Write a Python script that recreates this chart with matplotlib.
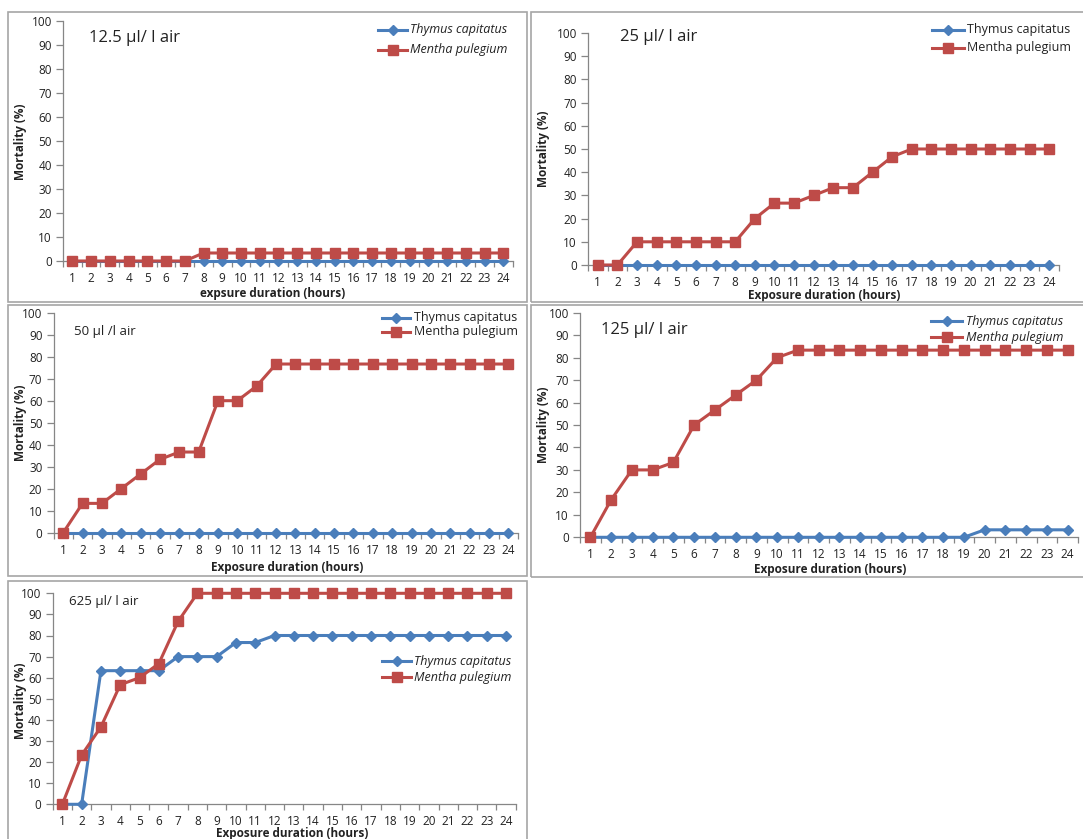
import matplotlib
matplotlib.use("Agg")
import matplotlib.pyplot as plt
from matplotlib.lines import Line2D
from matplotlib.patches import Rectangle

plt.rcParams['font.family'] = ['Open Sans', 'DejaVu Sans']

W, H = 1083, 839

hours = list(range(1, 25))
yticks = list(range(0, 101, 10))

# mortality (%) per concentration
thymus_12_5 = [0] * 24
mentha_12_5 = [0, 0, 0, 0, 0, 0, 0] + [3.33] * 17

thymus_25 = [0] * 24
mentha_25 = [0, 0, 10, 10, 10, 10, 10, 10, 20, 26.67, 26.67, 30, 33.33, 33.33,
             40, 46.67, 50, 50, 50, 50, 50, 50, 50, 50]

thymus_50 = [0] * 24
mentha_50 = [0, 13.33, 13.33, 20, 26.67, 33.33, 36.67, 36.67, 60, 60, 66.67,
             76.67] + [76.67] * 12

thymus_125 = [0] * 19 + [3.33] * 5
mentha_125 = [0, 16.67, 30, 30, 33.33, 50, 56.67, 63.33, 70, 80] + [83.33] * 14

thymus_625 = [0, 0, 63.33, 63.33, 63.33, 63.33, 70, 70, 70, 76.67, 76.67] + [80] * 13
mentha_625 = [0, 23.33, 36.67, 56.67, 60, 66.67, 86.67] + [100] * 17

labels = ["Thymus capitatus", "Mentha pulegium"]

BLUE = "#4A7EBB"
RED = "#BE4B48"
AXC = "#868686"
BOXC = "#A6A6A6"

fig = plt.figure(figsize=(W / 100, H / 100), dpi=100)


def fx(x):
    return x / W


def fy(y):
    return 1 - y / H


def box(x0, y0, x1, y1):
    fig.patches.append(Rectangle((fx(x0), fy(y1)), fx(x1) - fx(x0), fy(y0) - fy(y1),
                                 transform=fig.transFigure, fill=False,
                                 edgecolor=BOXC, linewidth=1.2))


def legend(x0, x1, tx, y_rows, italic, size):
    styles = [(BLUE, 'D', 5.5), (RED, 's', 7.5)]
    for (c, m, ms), yr, lab in zip(styles, y_rows, labels):
        fig.add_artist(Line2D([fx(x0), fx(x1)], [fy(yr), fy(yr)], color=c, lw=2.2,
                              transform=fig.transFigure))
        fig.add_artist(Line2D([fx((x0 + x1) / 2)], [fy(yr)], color=c, marker=m,
                              markersize=ms, markeredgecolor=c,
                              transform=fig.transFigure))
        fig.text(fx(tx), fy(yr), lab, fontsize=size, va='center', ha='left',
                 style='italic' if italic else 'normal', color='#222222')


def panel(xl, xr, y0, y100, thy, men, title, tpos, tsize, xlabel, xlab_pos, ylab_pos):
    ax = fig.add_axes([fx(xl), fy(y0), fx(xr) - fx(xl), (y0 - y100) / H])
    ax.plot(hours, thy, color=BLUE, lw=2.2, marker='D', markersize=5.5,
            markeredgecolor=BLUE, clip_on=False, zorder=3)
    ax.plot(hours, men, color=RED, lw=2.2, marker='s', markersize=7.5,
            markeredgecolor=RED, clip_on=False, zorder=4)
    ax.set_xlim(0.5, 24.5)
    ax.set_ylim(0, 100)
    for s in ('top', 'right'):
        ax.spines[s].set_visible(False)
    for s in ('left', 'bottom'):
        ax.spines[s].set_color(AXC)
        ax.spines[s].set_linewidth(0.9)
    ax.set_yticks(yticks)
    ax.tick_params(axis='y', direction='out', length=5, color=AXC, width=0.9,
                   labelsize=8.5, pad=3, labelcolor='#222222')
    # tick marks between categories, labels at the categories
    ax.set_xticks([h - 0.5 for h in hours] + [24.5])
    ax.set_xticklabels([])
    ax.set_xticks(hours, minor=True)
    ax.set_xticklabels([str(h) for h in hours], minor=True)
    ax.tick_params(axis='x', which='major', direction='out', length=4, color=AXC, width=0.9)
    ax.tick_params(axis='x', which='minor', length=0, labelsize=8.5, pad=8,
                   labelcolor='#222222')
    ax.set_xlabel(xlabel, fontsize=8.5, fontweight='bold', color='#222222')
    ax.xaxis.set_label_coords(fx(xlab_pos[0]), fy(xlab_pos[1]), transform=fig.transFigure)
    ax.xaxis.label.set_va('center')
    ax.set_ylabel("Mortality (%)", fontsize=8.5, fontweight='bold', color='#222222')
    ax.yaxis.set_label_coords(fx(ylab_pos[0]), fy(ylab_pos[1]), transform=fig.transFigure)
    ax.yaxis.label.set_ha('center')
    ax.yaxis.label.set_va('center')
    fig.text(fx(tpos[0]), fy(tpos[1]), title, fontsize=tsize, va='center', ha='left',
             color='#222222')
    return ax


# panel frames
box(8, 12, 527, 302)
box(531, 12, 1090, 302)
box(8, 305, 527, 576)
box(531, 305, 1090, 577)
box(8, 581, 527, 845)

panel(63, 512.6, 261, 20.7, thymus_12_5, mentha_12_5, "12.5 µl/ l air", (89, 38), 12,
      "expsure duration (hours)", (272.6, 293), (20.7, 142))
legend(378, 407, 410, (30, 50), True, 9)

panel(588, 1059, 265, 33, thymus_25, mentha_25, "25 µl/ l air", (620, 37), 12,
      "Exposure duration (hours)", (824, 295), (543.5, 149))
legend(932, 964, 967, (30, 48), False, 9)

panel(53.5, 518, 532.7, 312.7, thymus_50, mentha_50, "50 µl /l air", (74, 331), 9.5,
      "Exposure duration (hours)", (287, 567), (20.7, 423))
legend(382, 410, 414, (318, 332), False, 9)

panel(580, 1078, 537.3, 312.7, thymus_125, mentha_125, "125 µl/ l air", (601, 330), 12,
      "Exposure duration (hours)", (830, 570), (543.5, 425))
legend(931, 962, 966, (321, 337), True, 9)

panel(52.7, 515.7, 804.3, 593.3, thymus_625, mentha_625, "625 µl/ l air", (68.5, 602), 9.5,
      "Exposure duration (hours)", (292, 834), (21, 701))
legend(382, 411, 414, (661, 677), True, 9)

fig.savefig("out.png", dpi=100, facecolor='white')
